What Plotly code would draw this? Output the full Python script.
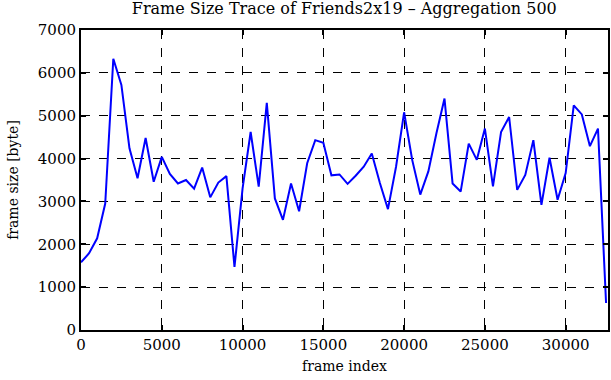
import plotly.graph_objects as go

frame_index = list(range(0, 33000, 500))
frame_size = [1580, 1790, 2140, 2950, 6330, 5720, 4240, 3540, 4480, 3460,
              4040, 3640, 3420, 3500, 3300, 3790, 3095, 3440, 3590, 1470,
              3300, 4620, 3345, 5300, 3070, 2570, 3420, 2770, 3890, 4430,
              4370, 3610, 3630, 3410, 3600, 3810, 4120, 3430, 2820, 3810,
              5080, 3970, 3160, 3700, 4590, 5400, 3420, 3230, 4350, 3970,
              4700, 3350, 4620, 4970, 3270, 3620, 4430, 2920, 4020, 3040,
              3660, 5240, 5030, 4290, 4700, 630]

fam = "DejaVu Serif, serif"
tick_font = dict(family=fam, size=15, color="black")
label_font = dict(family=fam, size=14, color="black")

fig = go.Figure()
fig.add_trace(go.Scatter(x=frame_index, y=frame_size, mode="lines",
                         line=dict(color="#0000ff", width=2), showlegend=False))

axis_common = dict(
    showline=True, linecolor="black", linewidth=2, mirror="allticks",
    ticks="inside", ticklen=5, tickwidth=1.5, tickcolor="black",
    showgrid=True, gridcolor="black", gridwidth=1, griddash="dash",
    zeroline=False, tickfont=tick_font, automargin=False, tickformat="d",
)

fig.update_layout(
    width=611, height=380,
    margin=dict(l=81, r=3, t=30, b=50),
    paper_bgcolor="white", plot_bgcolor="white",
    font=tick_font,
    title=dict(text="Frame Size Trace of Friends2x19 \u2013 Aggregation 500",
               x=0.5635, xanchor="center", y=0.992, yanchor="top",
               font=dict(family=fam, size=16, color="black")),
)
fig.update_xaxes(range=[0, 32620], tickvals=[0, 5000, 10000, 15000, 20000, 25000, 30000],
                 title=dict(text="frame index", font=label_font, standoff=8), **axis_common)
fig.update_yaxes(range=[0, 7000], tickvals=list(range(0, 8000, 1000)),
                 title=dict(text="frame size [byte]", font=label_font, standoff=16), **axis_common)

fig.write_html("out.html", config={"displayModeBar": False},
               post_script="document.body.style.margin='0';")
